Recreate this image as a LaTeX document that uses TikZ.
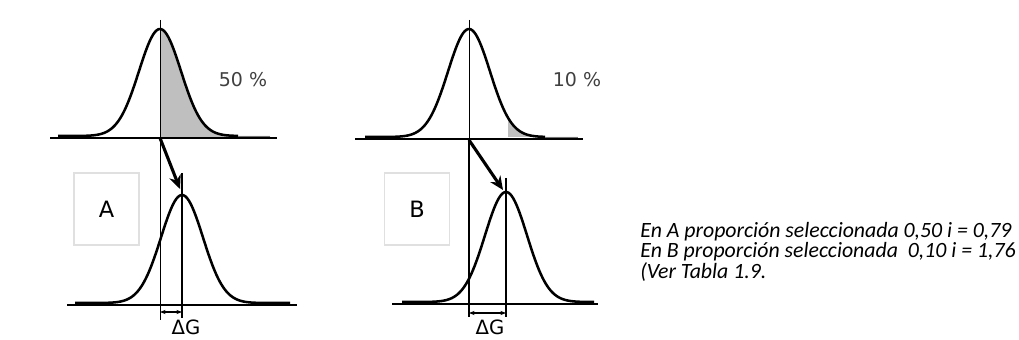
\documentclass[tikz,border=0pt]{standalone}
\usepackage{fontspec}
\newfontfamily\notefont{Carlito}
\newfontfamily\labfont{DejaVu Sans}
\usetikzlibrary{arrows.meta}

\begin{document}
\begin{tikzpicture}[
  x=0.025cm, y=-0.025cm,
  axis/.style={line width=1pt},
  bell/.style={line width=1.8pt, line join=round},
  guide/.style={line width=0.7pt},
  mark line/.style={line width=1.7pt},
  shade/.style={fill=black!25},
  sel/.style={-{Stealth[length=3.4mm, width=3mm]}, line width=2.2pt},
  gap/.style={{Stealth[length=1.4mm]}-{Stealth[length=1.4mm]}, line width=1pt},
  pct/.style={font=\labfont\fontsize{13.5}{15}\selectfont, text=black!75},
  lbox/.style={draw=black!12, line width=0.9pt, minimum width=1.625cm, minimum height=1.8cm, font=\labfont\fontsize{16}{18}\selectfont},
  dg/.style={font=\labfont\fontsize{14}{16}\selectfont},
  note/.style={anchor=west, inner sep=0pt, font=\notefont\itshape\fontsize{15.5}{18}\selectfont}
]
\useasboundingbox (0,0) rectangle (1019,340);

% panel A, parents
\fill[shade] (160,137) -- plot[domain=160:270, samples=60] (\x, {136-107*exp(-(\x-160)^2/882)}) -- (270,137) -- cycle;
\draw[axis] (50,138) -- (277,138);
\draw[bell] plot[domain=58:238, samples=120] (\x, {136-107*exp(-(\x-160)^2/882)});
\draw[black!55, line width=0.6pt] (238,136) -- (270,136);
\node[pct] (pA) at (243,80) {50 \%};

% panel A, offspring
\draw[axis] (67,305) -- (297,305);
\draw[bell] plot[domain=75:290, samples=120] (\x, {303-108*exp(-(\x-182)^2/882)});
\coordinate (oA) at (160,138);
\coordinate (tA) at (180,189);
\coordinate (gA) at (160,312);
\coordinate (hA) at (182,312);
\draw[guide] (160,20) -- (160,320);
\draw[mark line] (182,173) -- (182,318);
\draw[sel] (oA) -- (tA);
\draw[gap] (gA) -- (hA);
\node[dg] (dA) at (186,327) {ΔG};
\node[lbox] (boxA) at (106.5,209) {A};

% panel B, parents
\fill[shade] (508,137) -- plot[domain=508:578, samples=40] (\x, {137-108*exp(-(\x-469)^2/882)}) -- (578,137) -- cycle;
\draw[axis] (355,139) -- (583,139);
\draw[bell] plot[domain=365:545, samples=120] (\x, {137-108*exp(-(\x-469)^2/882)});
\draw[black!55, line width=0.6pt] (545,137) -- (578,137);
\node[pct] (pB) at (577,80) {10 \%};

% panel B, offspring
\draw[axis] (392,304) -- (598,304);
\draw[bell] plot[domain=402:594, samples=120] (\x, {302-110*exp(-(\x-506)^2/882)});
\coordinate (oB) at (469,140);
\coordinate (tB) at (503,190);
\coordinate (gB) at (469,313);
\coordinate (hB) at (506,313);
\draw[guide] (469,20) -- (469,140);
\draw[mark line] (469,140) -- (469,317);
\draw[mark line] (506,178) -- (506,317);
\draw[sel] (oB) -- (tB);
\draw[gap] (gB) -- (hB);
\node[dg] (dB) at (490,327) {ΔG};
\node[lbox] (boxB) at (417,209) {B};

% notes
\node[note] (note1) at (640,232) {En A proporción seleccionada 0,50 i = 0,79};
\node[note] (note2) at (640,252) {En B proporción seleccionada\ \ 0,10 i = 1,76};
\node[note] (note3) at (640,272) {(Ver Tabla 1.9.};
\end{tikzpicture}
\end{document}
